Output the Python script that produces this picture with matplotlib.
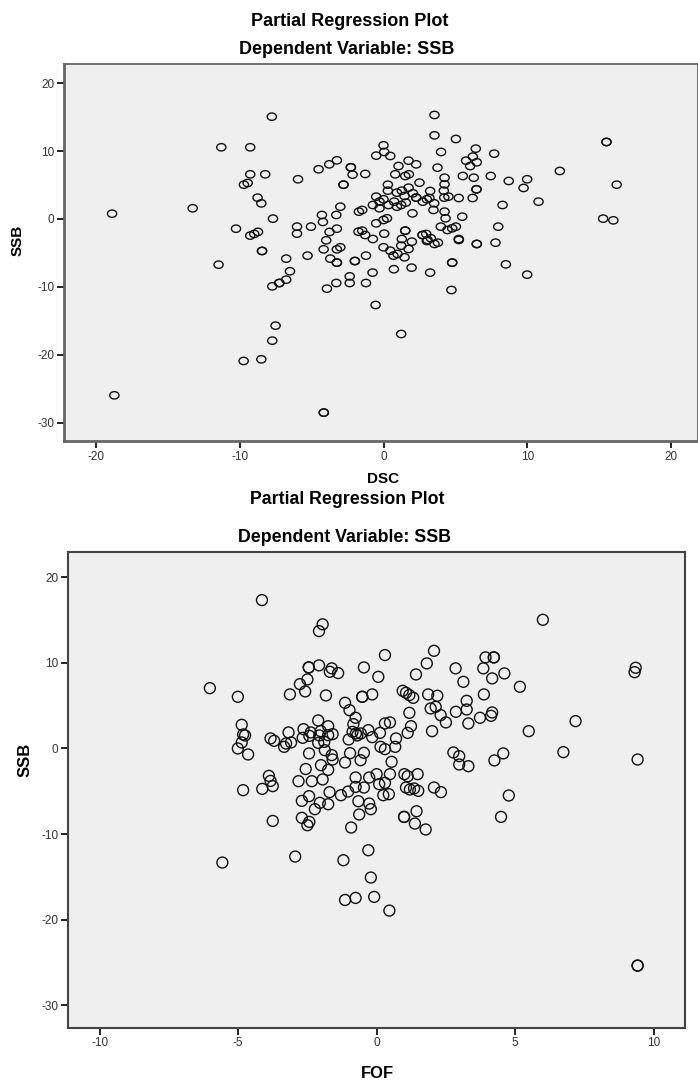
import matplotlib
matplotlib.use("Agg")
import matplotlib.pyplot as plt
from matplotlib.path import Path
from matplotlib.transforms import Affine2D
import numpy as np

plt.rcParams['font.family'] = ['Liberation Sans', 'DejaVu Sans']

# ---------------- data: top panel (DSC vs SSB) ----------------
dsc_x = [-18.86, -13.26, -11.27, -9.26, -7.76, -9.26, -8.22, -9.7, -9.44, -8.75,
         -8.49, -7.68, -10.25, -9.26, -8.98, -8.72, -8.44, -8.44, -5.94, -4.51,
         -3.77, -3.24, -2.78, -2.78, -3.0, -4.28, -4.21, -3.28, -6.01, -6.01,
         -5.04, -3.75, -3.24, -3.98, -4.16, -3.24, -3.0, -6.76, -5.28, -3.7,
         -11.46, -6.5, -3.24, -3.24, -7.73, -7.24, -7.24, -6.76, -3.93, -3.28,
         -2.35, -2.35, -7.5, -7.73, -9.72, -8.49, -18.7, -4.15, -4.15, 0.0,
         0.47, 0.69, 0.97, 1.23, 1.46, 1.74, 1.97, -1.22, -1.99, -1.99,
         -1.22, -0.76, 0.72, 1.95, 3.24, 4.77, 4.77, 4.72, -0.55, 1.23,
         3.01, 3.54, 3.78, 5.23, 6.48, 6.48, 7.78, 8.5, 9.98, 3.54,
         3.54, 5.03, 4.0, 3.75, 0.0, 0.05, -0.51, 0.47, -2.27, -2.27,
         -2.15, -1.27, 1.04, 1.74, 2.27, 0.81, 1.51, 1.76, 6.41, 5.74,
         6.2, 6.48, 6.02, 7.69, 5.51, 6.27, 7.45, 8.7, 9.98, 9.73,
         12.25, 15.49, 15.49, 16.2, 15.26, 15.97, 10.77, 8.27, 7.97, 6.46,
         6.46, 6.19, 5.23, 5.47, 4.24, 4.24, 4.19, 4.22, 4.51, 4.24,
         4.31, 3.98, 4.44, 4.77, 5.03, 5.23, 2.71, 2.71, 2.97, 3.06,
         3.29, 3.52, 3.47, 3.24, 2.5, 1.74, 2.04, 2.27, 2.27, 2.73,
         3.01, 3.19, 2.01, 0.3, 0.3, 0.93, 1.27, 1.46, 1.55, 1.23,
         0.93, 0.74, -0.51, 0.0, -0.28, -0.74, -0.28, 0.35, -1.71, -1.48,
         -0.51, 0.0, 0.24, -1.74, -1.48, -1.27, -0.74, 0.05, 1.51, 1.51,
         1.27]
dsc_y = [0.78, 1.58, 10.56, 10.56, 15.07, 6.58, 6.58, 5.05, 5.3, 3.14,
         2.3, 0.05, -1.43, -2.45, -2.2, -1.9, -4.71, -4.71, 5.85, 7.32,
         8.05, 8.64, 5.05, 5.05, 1.81, 0.59, -0.44, 0.59, -1.13, -2.16,
         -1.13, -1.91, -1.43, -3.14, -4.47, -4.47, -4.17, -5.84, -5.4, -5.84,
         -6.73, -7.7, -6.43, -6.43, -9.92, -9.43, -9.43, -8.94, -10.26, -9.43,
         -8.45, -9.43, -15.71, -17.92, -20.91, -20.67, -25.97, -28.52, -28.52, -4.17,
         -4.67, -5.4, -5.15, -3.93, -5.64, -4.42, -3.34, -5.4, -6.19, -6.19,
         -9.43, -7.9, -7.4, -7.17, -7.9, -6.43, -6.43, -10.46, -12.67, -16.94,
         -3.24, -3.68, -3.49, -3.09, -3.68, -3.68, -3.49, -6.68, -8.2, 15.32,
         12.32, 11.78, 9.87, 7.56, 10.85, 9.87, 9.33, 9.28, 7.61, 7.61,
         6.53, 6.63, 7.8, 8.59, 8.05, 6.58, 6.33, 6.58, 10.36, 8.59,
         9.18, 8.35, 7.8, 9.62, 6.33, 6.08, 6.33, 5.6, 5.85, 4.57,
         7.07, 11.34, 11.34, 5.05, 0.05, -0.2, 2.55, 2.06, -1.13, 4.37,
         4.37, 3.09, 3.09, 0.34, 6.08, 5.1, 4.17, 3.14, 3.29, 1.08,
         0.1, -1.13, -1.62, -1.37, -1.13, -2.95, -2.36, -2.36, -2.21, -3.09,
         -2.84, 2.31, 1.33, 4.12, 5.35, 4.61, 3.78, 3.14, 3.14, 2.55,
         2.9, 3.09, 0.83, 5.05, 4.17, 3.88, 4.17, 3.39, 2.41, 2.06,
         1.81, 2.55, 3.29, 2.9, 2.55, 2.06, 1.58, 2.06, 1.08, 1.33,
         -0.64, -0.15, 0.1, -1.87, -1.72, -2.36, -2.95, -2.16, -1.72, -1.72,
         -2.95]

# ---------------- data: bottom panel (FOF vs SSB) ----------------
fof_x = [-4.14, -1.95, -2.08, -6.02, -5.01, -2.45, -2.45, -2.08, -1.62, -1.69,
         -1.39, -2.77, -2.5, -2.58, -3.13, -1.83, -1.14, -0.98, -4.87, -4.82,
         -4.75, -4.87, -5.01, -4.64, -3.83, -3.7, -3.34, -3.27, -3.09, -3.18,
         -2.64, -2.67, -2.43, -2.38, -2.11, -2.02, -2.07, -1.75, -1.59, -1.75,
         -2.11, -1.89, -2.44, -1.87, -1.62, -1.59, -2.56, -2.01, -1.75, -1.14,
         -1.01, -0.96, -3.89, -3.83, -3.75, -4.82, -4.13, -3.75, -2.82, -2.34,
         -1.95, -2.44, -2.7, -2.05, -2.23, -1.75, -1.7, -1.29, -1.03, -2.7,
         -2.43, -2.5, -0.92, -2.94, -5.57, -1.2, -1.14, -0.76, -0.09, 0.46,
         -0.21, -0.3, -0.63, -0.66, -0.27, -0.21, -0.76, -0.46, -0.76, -0.27,
         0.0, 0.48, 0.09, 0.3, 0.24, 0.44, 1.0, 1.12, 1.48, 1.06,
         1.2, 1.35, 1.5, 2.07, 2.32, 0.99, 0.99, 1.44, 1.38, 1.77,
         4.77, 4.49, 9.42, 9.42, 6.0, 9.35, 9.31, 9.42, 7.18, 6.74,
         5.49, 5.17, 3.93, 4.23, 4.23, 3.85, 4.17, 4.61, 3.87, 2.85,
         3.13, 3.25, 3.25, 2.86, 3.31, 3.73, 4.13, 4.17, 2.77, 2.98,
         2.98, 3.31, 4.25, 4.57, 2.07, 1.81, 1.42, 0.3, -0.46, 0.06,
         0.94, 1.06, 1.18, 1.32, 1.86, 2.19, -0.52, -0.52, -0.16, 1.95,
         2.13, 2.31, 2.5, 1.18, 1.24, 1.12, 2.0, 0.3, 0.48, 0.7,
         0.67, 0.54, 0.14, 0.3, 0.12, -0.16, -0.3, -0.57, -0.75, -0.87,
         -0.84, -0.76, -0.58, -0.46, -0.7]
fof_y = [17.32, 14.49, 13.7, 7.04, 6.03, 9.46, 9.46, 9.7, 9.35, 8.95,
         8.8, 7.51, 8.06, 6.66, 6.31, 6.19, 5.33, 4.47, 2.76, 1.63,
         1.52, 0.7, 0.0, -0.7, 1.17, 0.89, 0.19, 0.58, 0.7, 1.87,
         2.25, 1.24, 1.47, 1.87, 3.27, 2.02, 1.52, 2.6, 1.67, 1.55,
         0.65, 0.77, -0.58, -0.2, -0.78, -1.29, -2.4, -1.95, -2.5, -1.64,
         1.05, -0.55, -3.2, -3.79, -4.4, -4.87, -4.72, -8.46, -3.82, -3.82,
         -3.62, -5.57, -6.12, -6.35, -7.09, -6.51, -5.1, -5.46, -5.03, -8.1,
         -8.57, -8.96, -9.23, -12.62, -13.32, -13.05, -17.69, -17.45, -17.33, -18.93,
         -15.07, -11.88, -7.71, -6.16, -6.43, -7.09, -4.49, -4.56, -3.39, -3.39,
         -3.0, -3.0, -4.17, -4.02, -5.46, -5.34, -3.0, -3.24, -3.0, -4.56,
         -4.79, -4.67, -4.95, -4.56, -5.1, -7.99, -7.99, -7.33, -8.77, -9.46,
         -5.49, -7.99, -25.35, -25.35, 15.02, 9.42, 8.91, -1.29, 3.19, -0.43,
         2.02, 7.2, 10.63, 10.63, 10.63, 9.35, 8.18, 8.76, 6.31, 9.35,
         7.78, 5.56, 4.55, 4.28, 2.92, 3.58, 3.81, 4.2, -0.47, -0.9,
         -1.87, -2.07, -1.4, -0.58, 11.4, 9.93, 8.64, 10.9, 9.46, 8.36,
         6.73, 6.5, 6.23, 5.91, 6.31, 6.15, 6.03, 6.03, 6.31, 4.67,
         4.86, 3.89, 3.04, 4.16, 2.6, 1.82, 2.02, 2.92, 3.04, 1.17,
         0.19, -1.56, 0.19, -0.08, 1.82, 1.32, 2.14, 1.75, 1.75, 1.94,
         2.84, 3.58, -1.37, -0.51, 1.52]

top_xticks = [-20, -10, 0, 10, 20]
bot_xticks = [-10, -5, 0, 5, 10]
yticks = [-30, -20, -10, 0, 10, 20]

title1 = "Partial Regression Plot"
title2 = "Dependent Variable: SSB"

# ---------------- drawing ----------------
W, H = 698, 1081
fig = plt.figure(figsize=(W / 100, H / 100), dpi=100)
fig.patch.set_facecolor('white')

BG = '#efefef'

# elliptical open marker (wider than tall) for top panel
ell = Path.unit_circle().transformed(Affine2D().scale(1.0, 0.8))


def px_axes(l, t, r, b):
    return fig.add_axes([l / W, 1 - b / H, (r - l) / W, (b - t) / H])


def style(ax, spine_col, spine_lw):
    ax.set_facecolor(BG)
    for s in ax.spines.values():
        s.set_color(spine_col)
        s.set_linewidth(spine_lw)
    ax.tick_params(axis='both', which='major', direction='out', length=5,
                   width=1.4, color='#222222', labelsize=8.5,
                   labelcolor='#333333', pad=2, top=False, right=False)
    ax.set_yticks(yticks)
    ax.set_yticklabels([str(v) for v in yticks])


# top panel
ax1 = px_axes(64, 63.5, 698, 441)
style(ax1, '#666666', 1.3)
ax1.spines['left'].set_linewidth(2.0)
ax1.spines['bottom'].set_linewidth(2.0)
ax1.scatter(dsc_x, dsc_y, s=44, marker=ell, facecolors='none',
            edgecolors='#111111', linewidths=1.0, zorder=3)
ax1.set_xlim(-22.2, 21.85)
ax1.set_ylim(-32.7, 22.9)
ax1.set_xticks(top_xticks)
ax1.set_xticklabels([str(v) for v in top_xticks])

# bottom panel
ax2 = px_axes(68.3, 551.7, 685, 1027.7)
style(ax2, '#444444', 1.5)
ax2.scatter(fof_x, fof_y, s=62, marker='o', facecolors='none',
            edgecolors='#111111', linewidths=1.0, zorder=3)
ax2.set_xlim(-11.13, 11.13)
ax2.set_ylim(-32.6, 22.97)
ax2.set_xticks(bot_xticks)
ax2.set_xticklabels([str(v) for v in bot_xticks])

# titles and axis labels
tf = dict(fontweight='bold', ha='center', va='center')
fig.text(350 / W, 1 - 21 / H, title1, fontsize=13, **tf)
fig.text(347 / W, 1 - 49 / H, title2, fontsize=13, **tf)
fig.text(18 / W, 1 - 240 / H, 'SSB', rotation=90, fontsize=11, **tf)
fig.text(383 / W, 1 - 479 / H, 'DSC', fontsize=11, **tf)

fig.text(347 / W, 1 - 499 / H, title1, fontsize=12.8, **tf)
fig.text(345 / W, 1 - 538 / H, title2, fontsize=12.8, **tf)
fig.text(25 / W, 1 - 760 / H, 'SSB', rotation=90, fontsize=12, **tf)
fig.text(377 / W, 1 - 1074 / H, 'FOF', fontsize=12, **tf)

fig.savefig('out.png', dpi=100, facecolor='white')
